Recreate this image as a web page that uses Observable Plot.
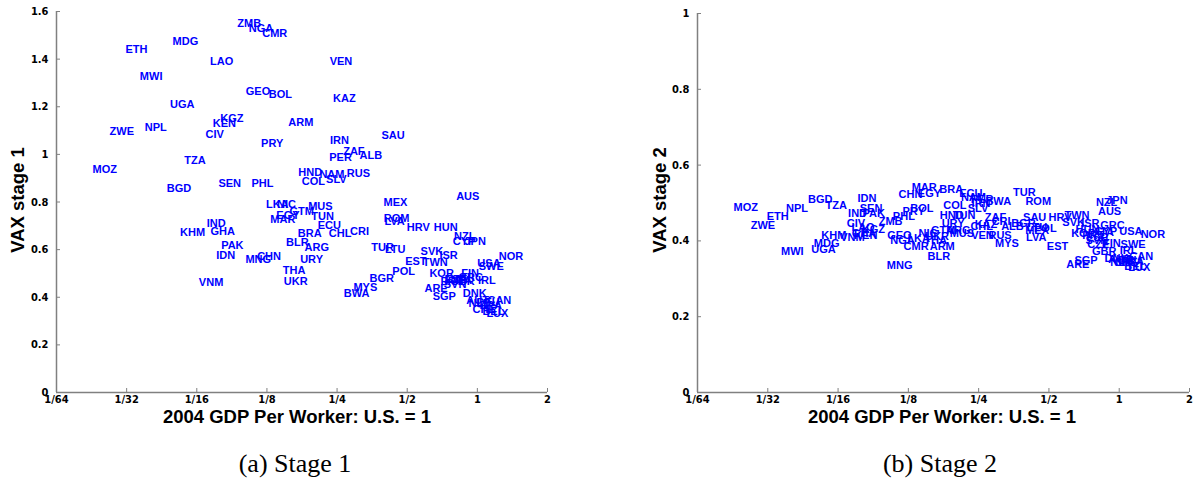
<!DOCTYPE html>
<html><head><meta charset="utf-8">
<script src="https://cdn.jsdelivr.net/npm/d3@7"></script>
<script src="https://cdn.jsdelivr.net/npm/@observablehq/plot@0.6"></script>
<style>
body{margin:0;background:#fff;width:1196px;height:485px;position:relative;overflow:hidden;font-family:"Liberation Sans",Arial,sans-serif}
.panel{position:absolute;top:0}
.xtitle{position:absolute;top:406px;width:500px;margin-left:-250px;text-align:center;font-weight:bold;font-size:18.5px;line-height:22px;color:#000;white-space:nowrap}
.ytitle{position:absolute;top:189px;width:200px;margin-left:-100px;text-align:center;font-weight:bold;font-size:18.5px;line-height:22px;transform:rotate(-90deg);white-space:nowrap}
.cap{position:absolute;top:449px;width:300px;margin-left:-150px;text-align:center;font-family:"Liberation Serif","Times New Roman",serif;font-size:26px;line-height:30px;white-space:nowrap}
</style></head><body>
<div id="p1" class="panel" style="left:0"></div>
<div id="p2" class="panel" style="left:641px"></div>
<div class="xtitle" style="left:297px">2004 GDP Per Worker: U.S. = 1</div>
<div class="xtitle" style="left:942px">2004 GDP Per Worker: U.S. = 1</div>
<div class="ytitle" style="left:18px">VAX stage 1</div>
<div class="ytitle" style="left:660px">VAX stage 2</div>
<div class="cap" style="left:295px">(a) Stage 1</div>
<div class="cap" style="left:940px">(b) Stage 2</div>
<script>
const countries = ["ZMB","NGA","CMR","MDG","ETH","LAO","VEN","MWI","GEO","BOL","KAZ","UGA","KGZ","KEN","ARM","ZWE","NPL","CIV","PRY","IRN","TZA","MOZ","BGD","SEN","PHL","HND","COL","SAU","ZAF","ALB","PER","NAM","SLV","RUS","MEX","AUS","MUS","LKA","NIC","GTM","EGY","MAR","TUN","ECU","IND","KHM","GHA","BRA","CHL","CRI","PAK","BLR","ARG","IDN","MNG","CHN","URY","THA","UKR","VNM","BWA","ROM","LVA","HRV","HUN","NZL","CYP","JPN","TUR","LTU","SVK","ISR","NOR","EST","TWN","POL","USA","SWE","BGR","KOR","FIN","ESP","PRT","GRC","CZE","ITA","GBR","IRL","SVN","MYS","ARE","SGP","DNK","AUT","NLD","DEU","FRA","CHE","BEL","CAN","LUX"];
const gdpPerWorker = [0.0933,0.1045,0.1193,0.0492,0.0309,0.0713,0.2323,0.0356,0.1014,0.1274,0.2404,0.048,0.0789,0.0732,0.1543,0.0264,0.0374,0.0681,0.118,0.2332,0.0552,0.0223,0.0465,0.0774,0.1073,0.1704,0.1763,0.3875,0.2655,0.3122,0.2314,0.2099,0.2243,0.2754,0.3956,0.8109,0.1879,0.1238,0.1381,0.1561,0.1372,0.1292,0.1938,0.2063,0.069,0.053,0.0716,0.1695,0.2305,0.2843,0.0795,0.1511,0.1812,0.0757,0.1011,0.1135,0.1736,0.1462,0.1476,0.0638,0.2673,0.3965,0.3992,0.4978,0.6503,0.7947,0.784,0.88,0.3507,0.401,0.5705,0.6871,1.2352,0.4898,0.5831,0.4315,1.0,1.0136,0.3444,0.6225,0.8522,0.7221,0.6943,0.8297,0.7293,0.8028,0.7642,1.0055,0.7176,0.2939,0.5929,0.6431,0.8656,0.897,0.9158,0.9912,1.0208,0.9526,1.0513,1.1051,1.0934];
const vaxStage1 = [1.551,1.528,1.509,1.475,1.442,1.389,1.389,1.327,1.265,1.252,1.234,1.211,1.151,1.129,1.135,1.096,1.113,1.085,1.045,1.057,0.973,0.937,0.856,0.877,0.879,0.925,0.887,1.078,1.012,0.997,0.986,0.914,0.893,0.921,0.796,0.825,0.783,0.79,0.788,0.761,0.743,0.727,0.739,0.701,0.709,0.673,0.675,0.667,0.667,0.676,0.616,0.629,0.61,0.574,0.56,0.571,0.56,0.511,0.467,0.463,0.415,0.731,0.719,0.694,0.694,0.655,0.635,0.634,0.61,0.601,0.591,0.575,0.571,0.549,0.547,0.508,0.541,0.529,0.479,0.498,0.499,0.475,0.466,0.483,0.474,0.47,0.467,0.472,0.454,0.44,0.435,0.405,0.415,0.386,0.374,0.378,0.365,0.349,0.34,0.388,0.332];
const vaxStage2 = [0.451,0.401,0.386,0.392,0.464,0.435,0.414,0.372,0.414,0.485,0.443,0.377,0.431,0.414,0.385,0.44,0.485,0.445,0.478,0.499,0.493,0.487,0.51,0.486,0.465,0.467,0.493,0.463,0.462,0.438,0.509,0.515,0.485,0.414,0.427,0.478,0.42,0.406,0.42,0.427,0.524,0.542,0.467,0.524,0.473,0.414,0.42,0.536,0.438,0.451,0.473,0.36,0.427,0.511,0.335,0.522,0.446,0.401,0.412,0.408,0.504,0.504,0.41,0.461,0.43,0.502,0.425,0.507,0.527,0.435,0.449,0.447,0.418,0.385,0.467,0.432,0.425,0.39,0.446,0.42,0.393,0.409,0.414,0.441,0.391,0.423,0.372,0.375,0.401,0.393,0.338,0.348,0.354,0.351,0.343,0.348,0.346,0.343,0.332,0.359,0.33];
const xTicks = [1/64, 1/32, 1/16, 1/8, 1/4, 1/2, 1, 2];
const xTickLabels = ["1/64","1/32","1/16","1/8","1/4","1/2","1","2"];
const yTicks1 = [0, 0.2, 0.4, 0.6, 0.8, 1, 1.2, 1.4, 1.6];
const yTickLabels1 = ["0","0.2","0.4","0.6","0.8","1","1.2","1.4","1.6"];
const yTicks2 = [0, 0.2, 0.4, 0.6, 0.8, 1];
const yTickLabels2 = ["0","0.2","0.4","0.6","0.8","1"];

const rows = countries.map((c, i) => ({country: c, gdp: gdpPerWorker[i], v1: vaxStage1[i], v2: vaxStage2[i]}));
const narrow = "'Liberation Sans Narrow','Arial Narrow','DejaVu Sans Condensed',sans-serif";
const gray = "#808080";

function panel(key, yTicks, yLabels, width, marginRight, marginTop) {
  return Plot.plot({
    width, height: 430,
    marginLeft: 56, marginRight, marginTop, marginBottom: 38,
    style: {fontFamily: "'Liberation Sans',Arial,sans-serif", background: "white", overflow: "visible"},
    x: {type: "log", base: 2, domain: [xTicks[0], xTicks[xTicks.length - 1]]},
    y: {domain: [yTicks[0], yTicks[yTicks.length - 1]]},
    marks: [
      Plot.ruleY([yTicks[0]], {stroke: gray, strokeWidth: 1.5}),
      Plot.ruleX([xTicks[0]], {stroke: gray, strokeWidth: 1.5}),
      Plot.axisX(xTicks, {tickSize: -4, tickPadding: 7, tickFormat: d => xTickLabels[xTicks.indexOf(d)], stroke: gray, fill: "black", fontWeight: "bold", fontSize: 11, fontFamily: narrow, label: null}),
      Plot.axisY(yTicks, {tickSize: -4, tickPadding: 12, tickFormat: d => yLabels[yTicks.indexOf(d)], stroke: gray, fill: "black", fontWeight: "bold", fontSize: 11, fontFamily: narrow, label: null}),
      Plot.text(rows, {x: "gdp", y: key, text: "country", textAnchor: "start", fill: "#0000ff", fontWeight: "bold", fontSize: 11})
    ]
  });
}
document.getElementById("p1").appendChild(panel("v1", yTicks1, yTickLabels1, 600, 53, 11));
document.getElementById("p2").appendChild(panel("v2", yTicks2, yTickLabels2, 555, 7, 13));
</script>
</body></html>
